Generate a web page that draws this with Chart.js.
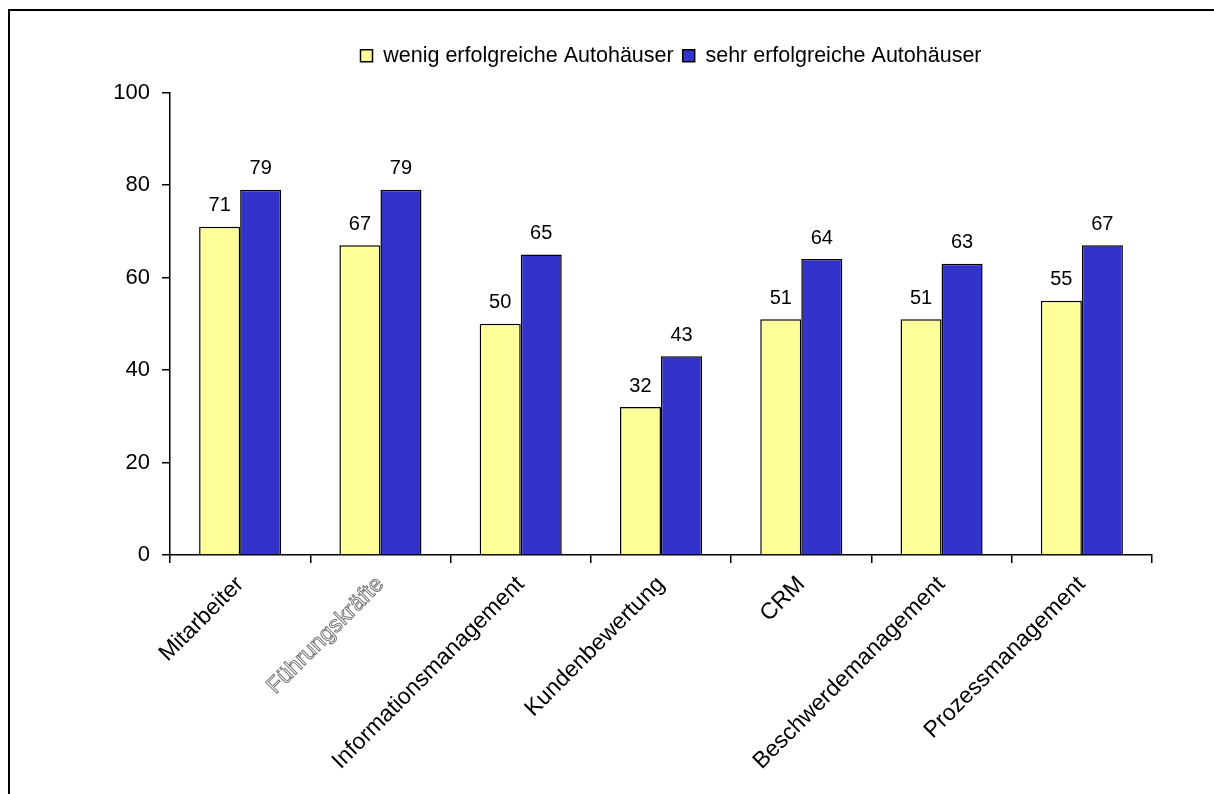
<!DOCTYPE html>
<html>
<head>
<meta charset="utf-8">
<script src="https://cdn.jsdelivr.net/npm/chart.js@4.4.1/dist/chart.umd.min.js"></script>
<style>
  html, body { margin: 0; padding: 0; background: #fff; overflow: hidden; }
  #frame { position: absolute; left: 8px; top: 9px; width: 1400px; height: 1000px; border: 2px solid #000; }
  #wrap { position: absolute; left: 0; top: 0; width: 1214px; height: 794px; }
</style>
</head>
<body>
<div id="frame"></div>
<div id="wrap"><canvas id="barChart" width="1214" height="794"></canvas></div>
<script>
var categories = ["Mitarbeiter", "Führungskräfte", "Informationsmanagement", "Kundenbewertung", "CRM", "Beschwerdemanagement", "Prozessmanagement"];
var seriesNames = ["wenig erfolgreiche Autohäuser", "sehr erfolgreiche Autohäuser"];
var wenigErfolgreich = [71, 67, 50, 32, 51, 51, 55];
var sehrErfolgreich = [79, 79, 65, 43, 64, 63, 67];
var yTicks = [0, 20, 40, 60, 80, 100];

Chart.defaults.font.family = "Arial, 'Liberation Sans', sans-serif";
Chart.defaults.color = "#000";

// value labels above each bar
var barValues = {
  id: 'barValues',
  afterDatasetsDraw: function(chart) {
    var c = chart.ctx;
    c.save();
    c.font = "20px Arial, 'Liberation Sans', sans-serif";
    c.fillStyle = "#000";
    c.textAlign = "center";
    c.textBaseline = "bottom";
    chart.data.datasets.forEach(function(ds, i) {
      chart.getDatasetMeta(i).data.forEach(function(bar, j) {
        c.fillText(ds.data[j], bar.x, bar.y - 11);
      });
    });
    c.restore();
  }
};

// extra gap under the legend, legend nudged a bit to the right
var legendGap = {
  id: 'legendGap',
  beforeLayout: function(chart) {
    var lg = chart.legend;
    if (lg && !lg._gapPatched) {
      var fit = lg.fit;
      lg.fit = function() { fit.call(this); this.height += 16; };
      lg._gapPatched = true;
    }
  },
  afterLayout: function(chart) {
    var lg = chart.legend;
    if (lg) { lg.left += 10; lg.right += 10; }
  }
};

var ctx = document.getElementById("barChart");
var barChart = new Chart(ctx, {
  type: 'bar',
  data: {
    labels: categories,
    datasets: [{
      label: seriesNames[0],
      data: wenigErfolgreich,
      backgroundColor: "#FFFF99",
      borderColor: "#000",
      borderWidth: 1.5,
      categoryPercentage: 0.585,
      barPercentage: 1.0
    }, {
      label: seriesNames[1],
      data: sehrErfolgreich,
      backgroundColor: "#3333CC",
      borderColor: "#000",
      borderWidth: 1.5,
      categoryPercentage: 0.585,
      barPercentage: 1.0
    }]
  },
  options: {
    responsive: false,
    animation: false,
    layout: { padding: { left: 0, right: 62, top: 36, bottom: 0 } },
    plugins: {
      tooltip: { enabled: false },
      legend: {
        position: 'top',
        fullSize: false,
        labels: {
          boxWidth: 12,
          boxHeight: 12,
          padding: 9,
          font: { size: 21.5 },
          color: "#000"
        }
      }
    },
    scales: {
      x: {
        grid: { offset: true, drawOnChartArea: false, drawTicks: true, tickLength: 8, color: "#000", lineWidth: 1.5 },
        border: { color: "#000", width: 1.5 },
        ticks: {
          maxRotation: 45,
          minRotation: 45,
          padding: 8,
          font: { size: 23 },
          color: function(c) { return c.index === 1 ? 'rgba(0,0,0,0)' : '#000'; },
          textStrokeColor: '#777',
          textStrokeWidth: function(c) { return c.index === 1 ? 1 : 0; }
        },
        afterFit: function(scale) { scale.height = 239; }
      },
      y: {
        min: 0,
        max: 100,
        afterBuildTicks: function(scale) { scale.ticks = yTicks.map(function(v) { return { value: v }; }); },
        grid: { drawOnChartArea: false, drawTicks: true, tickLength: 8, color: "#000", lineWidth: 1.5 },
        border: { color: "#000", width: 1.5 },
        ticks: { padding: 12, font: { size: 22 } },
        afterFit: function(scale) { scale.width = 170; }
      }
    }
  },
  plugins: [legendGap, barValues]
});
</script>
</body>
</html>
